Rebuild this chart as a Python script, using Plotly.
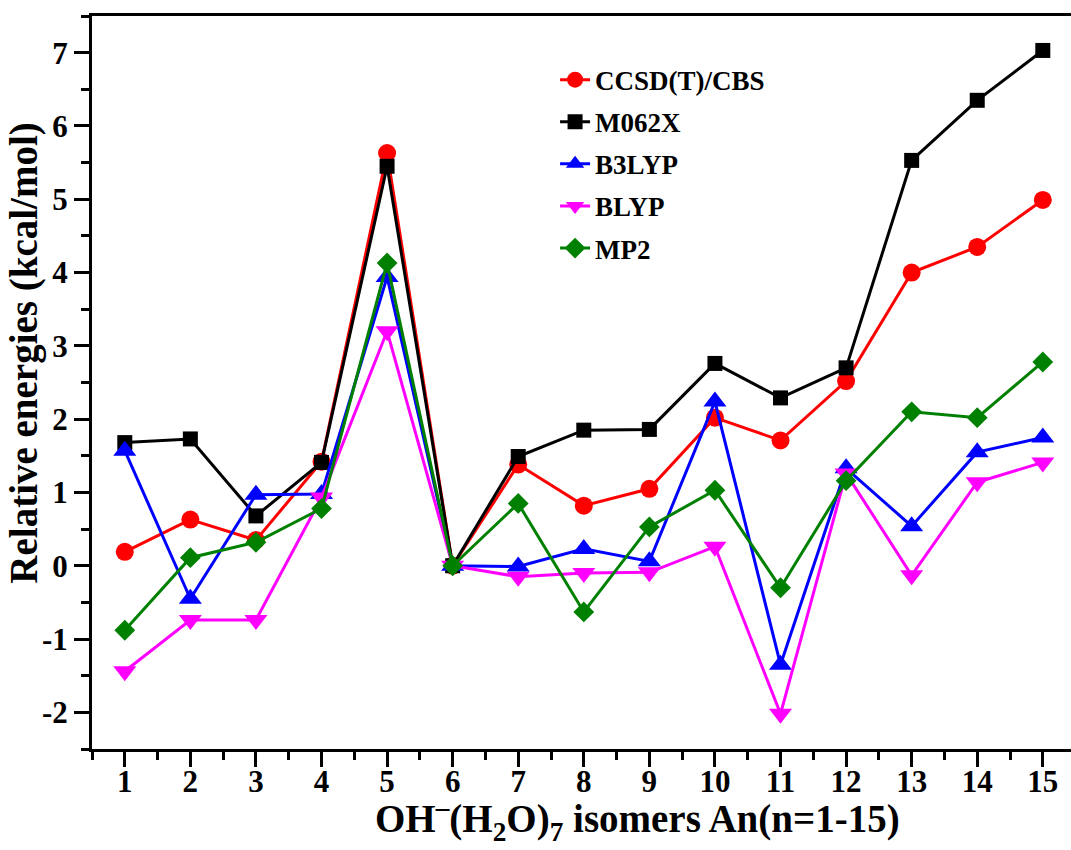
import plotly.graph_objects as go

isomers = list(range(1, 16))
tick_labels = [str(i) for i in isomers]
y_ticks = [-2, -1, 0, 1, 2, 3, 4, 5, 6, 7]
y_tick_labels = ["-2", "-1", "0", "1", "2", "3", "4", "5", "6", "7"]

ccsd_t_cbs = [0.19, 0.63, 0.35, 1.42, 5.63, 0.0, 1.38, 0.82, 1.05, 2.02, 1.71, 2.52, 4.00, 4.35, 4.99]
m062x = [1.68, 1.73, 0.68, 1.41, 5.45, 0.0, 1.49, 1.85, 1.86, 2.76, 2.29, 2.70, 5.53, 6.35, 7.03]
b3lyp = [1.57, -0.45, 0.97, 0.98, 3.94, 0.0, -0.01, 0.23, 0.06, 2.24, -1.35, 1.33, 0.54, 1.55, 1.75]
blyp = [-1.44, -0.74, -0.74, 0.93, 3.20, 0.0, -0.15, -0.10, -0.09, 0.26, -2.02, 1.26, -0.13, 1.14, 1.41]
mp2 = [-0.88, 0.11, 0.32, 0.78, 4.13, 0.0, 0.85, -0.63, 0.53, 1.03, -0.30, 1.16, 2.10, 2.02, 2.78]

series = [
    ("CCSD(T)/CBS", ccsd_t_cbs, "#FF0000", "circle", 18),
    ("M062X", m062x, "#000000", "square", 15),
    ("B3LYP", b3lyp, "#0000FF", "triangle-up", 20),
    ("BLYP", blyp, "#FF00FF", "triangle-down", 20),
    ("MP2", mp2, "#008000", "diamond", 16),
]

FONT = "Liberation Serif"

fig = go.Figure()
for i, (name, vals, color, sym, size) in enumerate(series):
    fig.add_trace(go.Scatter(
        x=isomers, y=vals, name=name, mode="lines+markers",
        line=dict(color=color, width=3),
        marker=dict(color=color, symbol=sym, size=size, line=dict(width=0)),
        legendgroup="g%d" % i,
    ))

fig.update_layout(
    width=1071, height=850,
    margin=dict(l=92, r=0, t=16, b=101),
    paper_bgcolor="white", plot_bgcolor="white",
    font=dict(family=FONT, color="black"),
    showlegend=True,
    legend=dict(
        x=0.473, y=0.946, xanchor="left", yanchor="top",
        bgcolor="rgba(0,0,0,0)", borderwidth=0,
        font=dict(family=FONT, size=27, color="black", weight="bold"),
        tracegroupgap=4, itemsizing="trace",
    ),
    xaxis=dict(
        range=[0.5, 15.43], tickmode="array", tickvals=isomers, ticktext=tick_labels,
        showgrid=False, zeroline=False, automargin=False,
        showline=True, linecolor="black", linewidth=3, mirror=True,
        ticks="outside", ticklen=15, tickwidth=3, tickcolor="black",
        ticklabelstandoff=-12,
        minor=dict(tickvals=[v + 0.5 for v in isomers[:-1]] + [0.5], ticks="outside", ticklen=8, tickwidth=3, tickcolor="black"),
        tickfont=dict(family=FONT, size=31, color="black", weight="bold"),
    ),
    yaxis=dict(
        range=[-2.5, 7.5], tickmode="array", tickvals=y_ticks, ticktext=y_tick_labels,
        showgrid=False, zeroline=False, automargin=False,
        showline=True, linecolor="black", linewidth=3, mirror=False,
        ticks="outside", ticklen=15, tickwidth=3, tickcolor="black",
        minor=dict(tick0=0.5, dtick=1, ticks="outside", ticklen=8, tickwidth=3, tickcolor="black"),
        tickfont=dict(family=FONT, size=31, color="black", weight="bold"),
    ),
)

# axis titles (placed as annotations to match the reference's offset positions)
fig.add_annotation(
    text="Relative energies (kcal/mol)", textangle=-90,
    xref="paper", yref="paper", x=-0.069, y=0.54, xanchor="center", yanchor="middle",
    showarrow=False, font=dict(family=FONT, size=39, color="black", weight="bold"),
)
fig.add_annotation(
    text="OH<sup>\u2012</sup>(H<sub>2</sub>O)<sub>7</sub> isomers An(n=1-15)",
    xref="paper", yref="paper", x=0.557, y=-0.1365, xanchor="center", yanchor="bottom",
    showarrow=False, font=dict(family=FONT, size=39, color="black", weight="bold"),
)

fig.write_html("out.html", config={"displayModeBar": False},
               post_script="document.body.style.margin='0';")
